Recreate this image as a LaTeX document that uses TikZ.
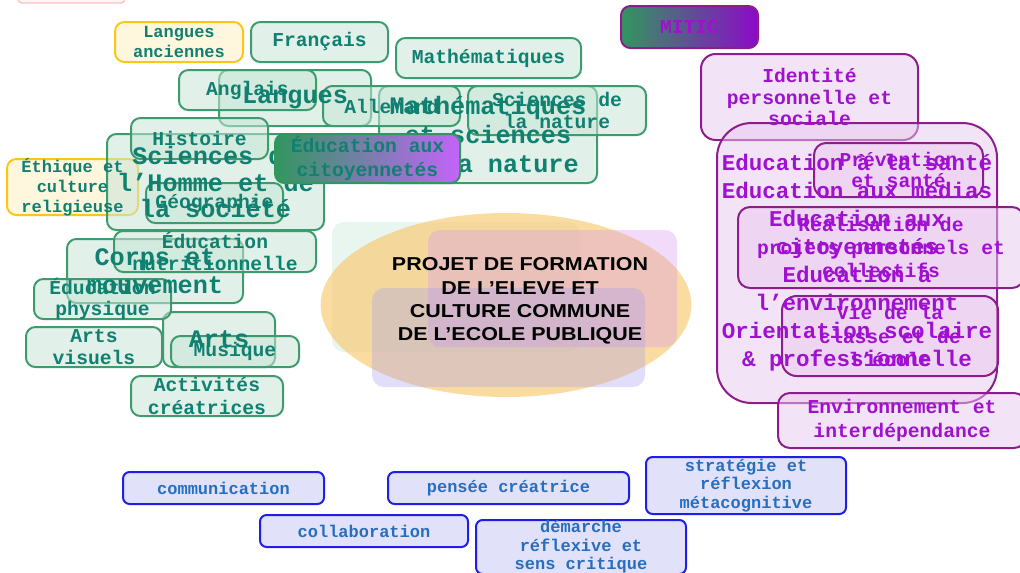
\documentclass[tikz,border=0pt]{standalone}
\usepackage{fontspec}
\usetikzlibrary{shapes.geometric}
\newfontfamily\cour{Liberation Mono}
\newfontfamily\arialx[FakeStretch=1.15]{Liberation Sans}
\newcommand\ftsmall{\cour\bfseries\fontsize{14.75}{17}\selectfont}
\newcommand\ftbig{\cour\bfseries\fontsize{18.9}{21}\selectfont}
\newcommand\ftyel{\cour\bfseries\fontsize{12.75}{14.8}\selectfont}
\newcommand\ftpbig{\cour\bfseries\fontsize{16.9}{21}\selectfont}
\newcommand\ftblue{\cour\bfseries\fontsize{12.75}{13.9}\selectfont}
\newcommand\fttitle{\arialx\bfseries\fontsize{14}{17.5}\selectfont}
\definecolor{gborder}{RGB}{62,155,110}
\definecolor{gfill}{RGB}{200,228,214}
\definecolor{tealtxt}{RGB}{16,128,112}
\definecolor{yborder}{RGB}{250,200,20}
\definecolor{yfill}{RGB}{255,240,200}
\definecolor{pborder}{RGB}{140,30,140}
\definecolor{pfill}{RGB}{232,200,238}
\definecolor{ptxt}{RGB}{160,16,208}
\definecolor{bborder}{RGB}{30,30,230}
\definecolor{bfill}{RGB}{225,225,250}
\definecolor{btxt}{RGB}{40,110,190}
\definecolor{ggrad}{RGB}{50,150,95}
\definecolor{pgrad}{RGB}{140,10,200}
\definecolor{vgrad}{RGB}{195,100,250}
\pgfdeclarelayer{boxes}
\pgfsetlayers{boxes,main}
\tikzset{
  shp/.style={inner sep=0pt, line width=1.5pt},
  txt/.style={inner sep=0pt, align=center},
  gbox/.style={shp, draw=gborder, fill=gfill, fill opacity=0.55, rounded corners=7pt},
  gtxt/.style={txt, text=tealtxt, font=\ftsmall},
  gbigtxt/.style={txt, text=tealtxt, font=\ftbig},
  ybox/.style={shp, draw=yborder, fill=yfill, fill opacity=0.6, rounded corners=7pt},
  pbox/.style={shp, draw=pborder, fill=pfill, fill opacity=0.5, rounded corners=9pt},
  ptxt/.style={txt, text=ptxt, font=\ftsmall},
  bbox/.style={shp, draw=bborder, fill=bfill, rounded corners=5pt},
  btxt/.style={txt, text=btxt, font=\ftblue},
  overlay/.style={rounded corners=9pt, fill opacity=0.4, inner sep=0pt},
  gradbox/.style={inner sep=0pt, align=center, line width=1.5pt, rounded corners=7pt}
}
% \mkbox{name}{box style}{text style}{x1}{y1}{x2}{y2}{text}  (pixel coordinates)
\newcommand\mkbox[8]{%
  \pgfmathsetmacro\bcx{(#4+#6)/2}%
  \pgfmathsetmacro\bcy{(#5+#7)/2}%
  \pgfmathsetmacro\bww{(#6-#4)*0.75}%
  \pgfmathsetmacro\bhh{(#7-#5)*0.75}%
  \begin{pgfonlayer}{boxes}%
  \node (#1) [#2, minimum width=\bww pt, minimum height=\bhh pt] at (\bcx,\bcy) {};%
  \end{pgfonlayer}%
  \node (#1t) [#3] at (#1.center) {#8};%
}
% \mkone{name}{style}{x1}{y1}{x2}{y2}{text} : one node, shape and text together
\newcommand\mkone[7]{%
  \pgfmathsetmacro\bcx{(#3+#5)/2}%
  \pgfmathsetmacro\bcy{(#4+#6)/2}%
  \pgfmathsetmacro\bww{(#5-#3)*0.75}%
  \pgfmathsetmacro\bhh{(#6-#4)*0.75}%
  \node (#1) [#2, minimum width=\bww pt, minimum height=\bhh pt] at (\bcx,\bcy) {#7};%
}
\begin{document}
\begin{tikzpicture}[x=0.75pt,y=-0.75pt]
\useasboundingbox (0,0) rectangle (1020,572);
% faint fragment top-left
\draw[red!25, fill=red!4, line width=1pt, rounded corners=3pt] (18,-10) rectangle (125,3);

% ---- centre ----
\mkone{cg}{overlay, fill={rgb,255:red,200;green,230;blue,215}}{332}{222}{580}{352}{}
\node (ell) [ellipse, fill={rgb,255:red,248;green,205;blue,120}, fill opacity=0.7, minimum width=278pt, minimum height=138pt, inner sep=0pt] at (506,305) {};
\mkone{cp}{overlay, fill={rgb,255:red,215;green,150;blue,240}, fill opacity=0.35}{428}{230}{677}{347}{}
\mkone{cb}{overlay, fill={rgb,255:red,170;green,160;blue,240}, fill opacity=0.35}{372}{288}{645}{387}{}
\node (title) [align=center, font=\fttitle, text=black] at (520,301) {PROJET DE FORMATION\\DE L’ELEVE ET\\CULTURE COMMUNE\\DE L’ECOLE PUBLIQUE};

% ---- left, yellow ----
\mkbox{langanc}{ybox}{gtxt, font=\cour\bfseries\fontsize{12.75}{14.3}\selectfont}{115}{22}{243}{62}{Langues\\anciennes}
\mkbox{ethique}{ybox}{gtxt, font=\cour\bfseries\fontsize{12.75}{15.2}\selectfont}{7}{159}{138}{215}{Éthique et\\culture\\religieuse}

% ---- left, big groups ----
\mkbox{langues}{gbox}{gbigtxt}{219}{70}{371}{126}{Langues}
\mkbox{mathsci}{gbox}{gbigtxt, font=\cour\bfseries\fontsize{18.9}{22}\selectfont}{379}{86}{597}{183}{Mathématiques\\et sciences\\de la nature}
\mkbox{shs}{gbox}{gbigtxt, font=\cour\bfseries\fontsize{18.9}{20}\selectfont}{107}{134}{324}{230}{Sciences de\\l’Homme et de\\la société}
\mkbox{corps}{gbox}{gbigtxt}{67}{239}{243}{303}{Corps et\\mouvement}
\mkbox{arts}{gbox}{gbigtxt}{163}{312}{275}{367}{Arts}

% ---- left, subjects ----
\mkbox{francais}{gbox}{gtxt}{251}{22}{388}{62}{Français}
\mkbox{maths}{gbox}{gtxt}{396}{38}{581}{78}{Mathématiques}
\mkbox{anglais}{gbox}{gtxt}{179}{70}{316}{110}{Anglais}
\mkbox{allemand}{gbox}{gtxt}{323}{86}{460}{126}{Allemand}
\mkbox{scnat}{gbox}{gtxt}{468}{86}{646}{135}{Sciences de\\la nature}
\mkbox{histoire}{gbox}{gtxt}{131}{118}{268}{159}{Histoire}
\mkbox{geo}{gbox}{gtxt}{146}{183}{283}{223}{Géographie}
\mkbox{nutri}{gbox}{gtxt}{114}{231}{316}{272}{Éducation\\nutritionnelle}
\mkbox{physique}{gbox}{gtxt, font=\cour\bfseries\fontsize{14.75}{16}\selectfont}{34}{279}{171}{319}{Éducation\\physique}
\mkbox{visuels}{gbox}{gtxt}{26}{327}{162}{367}{Arts\\visuels}
\mkbox{musique}{gbox}{gtxt}{171}{336}{299}{367}{Musique}
\mkbox{activites}{gbox}{gtxt}{131}{376}{283}{416}{Activités\\créatrices}

% ---- right, purple ----
\mkbox{identite}{pbox, rounded corners=11pt}{ptxt, font=\cour\bfseries\fontsize{14.75}{16}\selectfont}{701}{54}{918}{140}{Identité\\personnelle et\\sociale}
\mkbox{fg}{pbox, rounded corners=26pt}{ptxt, font=\ftpbig}{717}{123}{997}{403}{Education à la santé\\Education aux médias\\Education aux\\citoyennetés\\Education à\\l’environnement\\Orientation scolaire\\\& professionnelle}
\mkbox{prevention}{pbox}{ptxt, font=\cour\bfseries\fontsize{14.75}{15.8}\selectfont}{814}{143}{983}{197}{Prévention\\et santé}
\mkbox{realisation}{pbox}{ptxt}{738}{207}{1024}{288}{Réalisation de\\projets personnels et\\collectifs}
\mkbox{vie}{pbox, rounded corners=11pt}{ptxt, font=\cour\bfseries\fontsize{14.75}{17.5}\selectfont}{782}{296}{998}{376}{Vie de la\\classe et de\\l’école}
\mkbox{environ}{pbox}{ptxt, font=\cour\bfseries\fontsize{14.75}{18}\selectfont}{778}{393}{1026}{448}{Environnement et\\interdépendance}

% ---- bottom, blue ----
\mkbox{comm}{bbox}{btxt}{123}{472}{324}{504}{communication}
\mkbox{pensee}{bbox}{btxt}{388}{472}{629}{504}{pensée créatrice}
\mkbox{strategie}{bbox}{btxt}{646}{457}{846}{514}{stratégie et\\réflexion\\métacognitive}
\mkbox{collab}{bbox}{btxt}{260}{515}{468}{547}{collaboration}
\mkbox{demarche}{bbox}{btxt}{476}{520}{686}{574}{démarche\\réflexive et\\sens critique}

% ---- opaque gradient boxes, on top ----
\mkone{citoy}{gradbox, draw=ggrad, left color=ggrad, right color=vgrad, text=tealtxt, font=\cour\bfseries\fontsize{14.75}{18}\selectfont}{275}{134}{460}{183}{Éducation aux\\citoyennetés}
\mkone{mitic}{gradbox, draw=pborder, left color=ggrad, right color=pgrad, text=ptxt, font=\ftsmall}{621}{6}{758}{48}{MITIC}
\end{tikzpicture}
\end{document}
